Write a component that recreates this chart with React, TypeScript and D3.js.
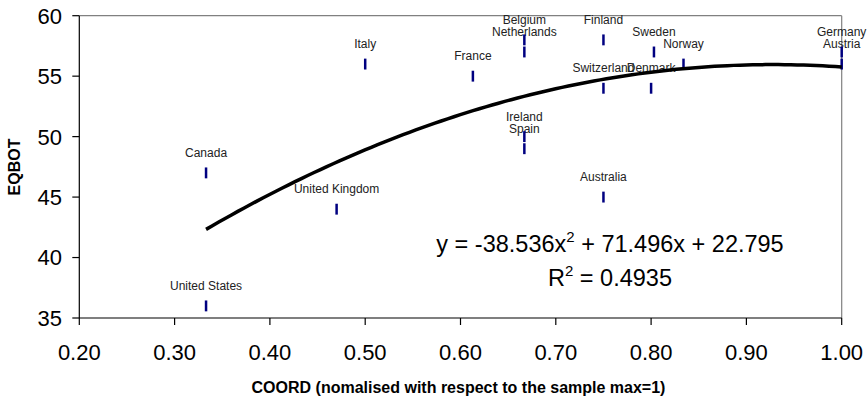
import React from "react";
import * as d3 from "d3";

const countries = [
  "Canada", "United States", "United Kingdom", "Italy", "France",
  "Belgium", "Netherlands", "Ireland", "Spain", "Finland", "Switzerland",
  "Australia", "Sweden", "Denmark", "Norway", "Germany", "Austria",
];
const coord = [
  0.333, 0.333, 0.47, 0.5, 0.613,
  0.667, 0.667, 0.667, 0.667, 0.75, 0.75,
  0.75, 0.803, 0.8, 0.834, 1.0, 1.0,
];
const eqbot = [
  47, 36, 44, 56, 55,
  58, 57, 50, 49, 58, 54,
  45, 57, 54, 56, 57, 56,
];
const xTicks = [0.2, 0.3, 0.4, 0.5, 0.6, 0.7, 0.8, 0.9, 1.0];
const yTicks = [35, 40, 45, 50, 55, 60];
const trendCoef = [-38.536, 71.496, 22.795];
const trendRange = [0.333, 1.0];

const W = 867;
const H = 403;
const FONT = "'Liberation Sans', Arial, sans-serif";

export default function App() {
  const x = d3.scaleLinear().domain([0.2, 1.0]).range([79.3, 841.7]);
  const y = d3.scaleLinear().domain([35, 60]).range([318, 15.7]);
  const unit = Math.abs(y(1) - y(0));

  const trendPts = d3.range(0, 101).map((i) => {
    const xv = trendRange[0] + ((trendRange[1] - trendRange[0]) * i) / 100;
    return [xv, trendCoef[0] * xv * xv + trendCoef[1] * xv + trendCoef[2]] as [number, number];
  });
  const line = d3
    .line<[number, number]>()
    .x((d) => x(d[0]))
    .y((d) => y(d[1]))
    .curve(d3.curveLinear);

  const [x0, x1] = x.range();
  const [yb, yt] = y.range();

  return (
    <div style={{ position: "absolute", left: 0, top: 0 }}>
      <svg width={W} height={H} style={{ display: "block", background: "#fff" }} fontFamily={FONT}>
        {/* plot frame */}
        <line x1={x0} x2={x1} y1={yt} y2={yt} stroke="#808080" strokeWidth={1.2} />
        <line x1={x1} x2={x1} y1={yt} y2={yb} stroke="#808080" strokeWidth={1.2} />
        <line x1={x0} x2={x0} y1={yt} y2={yb} stroke="#000" strokeWidth={1.2} />
        <line x1={x0} x2={x1} y1={yb} y2={yb} stroke="#000" strokeWidth={1.2} />

        {/* y ticks */}
        {yTicks.map((t) => (
          <g key={"y" + t}>
            <line x1={x0 - 7} x2={x0} y1={y(t)} y2={y(t)} stroke="#000" strokeWidth={1.2} />
            <text x={62} y={y(t)} dy="0.36em" textAnchor="end" fontSize={22} fill="#000">
              {t}
            </text>
          </g>
        ))}
        {/* x ticks */}
        {xTicks.map((t) => (
          <g key={"x" + t}>
            <line x1={x(t)} x2={x(t)} y1={yb} y2={yb + 7} stroke="#000" strokeWidth={1.2} />
            <text x={x(t)} y={360} textAnchor="middle" fontSize={22} fill="#000">
              {d3.format(".2f")(t)}
            </text>
          </g>
        ))}

        {/* axis titles */}
        <text
          transform={`translate(20,167) rotate(-90)`}
          textAnchor="middle"
          fontSize={16}
          fontWeight="bold"
          fill="#000"
        >
          EQBOT
        </text>
        <text x={458.5} y={393} textAnchor="middle" fontSize={16} fontWeight="bold" fill="#000">
          COORD (nomalised with respect to the sample max=1)
        </text>

        {/* data labels */}
        {countries.map((c, i) => (
          <text
            key={"l" + c}
            x={x(coord[i])}
            y={y(eqbot[i]) - 16}
            textAnchor="middle"
            fontSize={12}
            fill="#222"
          >
            {c}
          </text>
        ))}

        {/* markers */}
        {countries.map((c, i) => (
          <line
            key={"m" + c}
            x1={x(coord[i])}
            x2={x(coord[i])}
            y1={y(eqbot[i]) - unit / 2 + 0.6}
            y2={y(eqbot[i]) + unit / 2 - 0.6}
            stroke="#000080"
            strokeWidth={2.5}
          />
        ))}

        {/* trendline */}
        <path d={line(trendPts) || ""} fill="none" stroke="#000" strokeWidth={3.5} />

        {/* equation */}
        <text x={610} y={252} textAnchor="middle" fontSize={23.5} fill="#000">
          <tspan>y = -38.536x</tspan>
          <tspan fontSize={15} dy={-10}>2</tspan>
          <tspan dy={10}> + 71.496x + 22.795</tspan>
        </text>
        <text x={610} y={286} textAnchor="middle" fontSize={23.5} fill="#000">
          <tspan>R</tspan>
          <tspan fontSize={15} dy={-10}>2</tspan>
          <tspan dy={10}> = 0.4935</tspan>
        </text>
      </svg>
    </div>
  );
}
